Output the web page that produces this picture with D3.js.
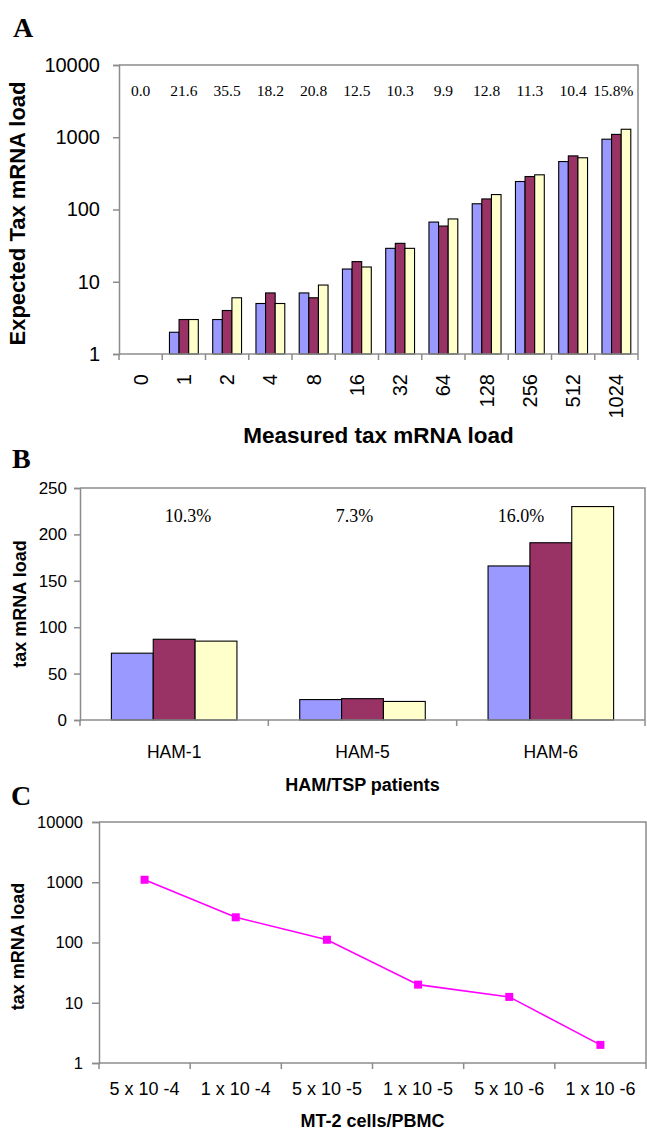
<!DOCTYPE html>
<html>
<head>
<meta charset="utf-8">
<script src="https://cdn.jsdelivr.net/npm/d3@7"></script>
<style>
  body { margin: 0; background: #fff; }
  svg { display: block; }
  text { fill: #000; }
</style>
</head>
<body>
<svg id="chart" width="647" height="1130"></svg>
<script>
// ---------------- DATA ----------------
// Panel A
const catsA = ["0", "1", "2", "4", "8", "16", "32", "64", "128", "256", "512", "1024"];
const seriesA1 = [0, 2, 3, 5, 7, 15, 29, 67, 120, 244, 461, 940];
const seriesA2 = [0, 3, 4, 7, 6, 19, 34, 59, 140, 286, 552, 1095];
const seriesA3 = [0, 3, 6, 5, 9, 16, 29, 74, 161, 302, 520, 1290];
const cvA = ["0.0", "21.6", "35.5", "18.2", "20.8", "12.5", "10.3", "9.9", "12.8", "11.3", "10.4", "15.8%"];
const ticksA = [1, 10, 100, 1000, 10000];

// Panel B
const catsB = ["HAM-1", "HAM-5", "HAM-6"];
const seriesB1 = [72, 22, 166];
const seriesB2 = [87, 23, 191];
const seriesB3 = [85, 20, 230];
const cvB = ["10.3%", "7.3%", "16.0%"];
const ticksB = [0, 50, 100, 150, 200, 250];

// Panel C
const catsC = ["5 x 10 -4", "1 x 10 -4", "5 x 10 -5", "1 x 10 -5", "5 x 10 -6", "1 x 10 -6"];
const valuesC = [1100, 262, 111, 20, 12.5, 2];
const ticksC = [1, 10, 100, 1000, 10000];

// ---------------- STYLE ----------------
const barColors = ["#9999FF", "#993366", "#FFFFCC"];
const axisGrey = "#8c8c8c";
const sans = "'Liberation Sans', Arial, sans-serif";
const serif = "'Liberation Serif', 'Times New Roman', serif";

const svg = d3.select("#chart");
svg.append("rect").attr("width", 647).attr("height", 1130).attr("fill", "#fff");

function frame(g, x0, x1, y0, y1) {
  g.append("path")
    .attr("d", `M${x0},${y0}H${x1}V${y1}`)
    .attr("fill", "none").attr("stroke", axisGrey).attr("stroke-width", 1.5);
}
function styleAxis(g) {
  g.selectAll(".domain").attr("stroke", axisGrey).attr("stroke-width", 1.5);
  g.selectAll(".tick line").attr("stroke", axisGrey).attr("stroke-width", 1.5);
}
function boundaryTicks(g, xScale, cats, y, len) {
  const bounds = cats.map(c => xScale(c)).concat([xScale(cats[cats.length - 1]) + xScale.bandwidth()]);
  g.selectAll(null).data(bounds).join("line")
    .attr("x1", d => d).attr("x2", d => d)
    .attr("y1", y).attr("y2", y + len)
    .attr("stroke", axisGrey).attr("stroke-width", 1.5);
}
function panelLetter(t, x, y) {
  svg.append("text").attr("x", x).attr("y", y).text(t)
    .attr("font-family", serif).attr("font-weight", "bold").attr("font-size", 28);
}
function excelBars(g, xScale, yScale, cats, series, baseVal) {
  const bw = xScale.bandwidth();
  const barW = bw / (series.length + 1.5);
  const inner = d3.scaleBand().domain(d3.range(series.length))
    .range([barW * 0.75, bw - barW * 0.75]).padding(0);
  series.forEach((vals, si) => {
    g.selectAll(null).data(cats.map((c, i) => ({ c, v: vals[i] })).filter(d => d.v > 0))
      .join("rect")
      .attr("x", d => xScale(d.c) + inner(si))
      .attr("width", inner.bandwidth())
      .attr("y", d => yScale(d.v))
      .attr("height", d => yScale(baseVal) - yScale(d.v))
      .attr("fill", barColors[si])
      .attr("stroke", "#000").attr("stroke-width", 1.1);
  });
}

// ---------------- PANEL A ----------------
{
  const L = 119, R = 638, T = 65, B = 354;
  const x = d3.scaleBand().domain(catsA).range([L, R]).padding(0);
  const y = d3.scaleLog().domain([1, 10000]).range([B, T]);
  const g = svg.append("g");
  frame(g, L, R, T, B);
  excelBars(g, x, y, catsA, [seriesA1, seriesA2, seriesA3], 1);

  const ya = g.append("g").attr("transform", `translate(${L},0)`)
    .call(d3.axisLeft(y).tickValues(ticksA).tickFormat(d3.format("d")).tickSize(6).tickPadding(13));
  styleAxis(ya);
  ya.selectAll("text").attr("font-family", sans).attr("font-size", 20);

  g.append("line").attr("x1", L).attr("x2", R).attr("y1", B).attr("y2", B)
    .attr("stroke", axisGrey).attr("stroke-width", 1.5);
  boundaryTicks(g, x, catsA, B, 6);

  g.selectAll(null).data(catsA).join("text")
    .attr("transform", d => `translate(${x(d) + x.bandwidth() / 2},${B + 20}) rotate(-90)`)
    .attr("text-anchor", "end").attr("dy", "0.35em")
    .attr("font-family", sans).attr("font-size", 20)
    .text(d => d);

  g.selectAll(null).data(catsA).join("text")
    .attr("x", (d, i) => x(d) + x.bandwidth() / 2 + (i === catsA.length - 1 ? -3 : 0))
    .attr("y", 96)
    .attr("text-anchor", "middle")
    .attr("font-family", serif).attr("font-size", 15.5)
    .text((d, i) => cvA[i]);

  g.append("text").attr("x", (L + R) / 2).attr("y", 443).attr("text-anchor", "middle")
    .attr("font-family", sans).attr("font-weight", "bold").attr("font-size", 22.5)
    .text("Measured tax mRNA load");
  g.append("text").attr("transform", `translate(17,${(T + B) / 2 + 4}) rotate(-90)`)
    .attr("text-anchor", "middle").attr("dy", "0.35em")
    .attr("font-family", sans).attr("font-weight", "bold").attr("font-size", 22)
    .text("Expected Tax mRNA load");
  panelLetter("A", 13, 37);
}

// ---------------- PANEL B ----------------
{
  const L = 80, R = 645, T = 488, B = 720;
  const x = d3.scaleBand().domain(catsB).range([L, R]).padding(0);
  const y = d3.scaleLinear().domain([0, 250]).range([B, T]);
  const g = svg.append("g");
  frame(g, L, R, T, B);
  excelBars(g, x, y, catsB, [seriesB1, seriesB2, seriesB3], 0);

  const ya = g.append("g").attr("transform", `translate(${L},0)`)
    .call(d3.axisLeft(y).tickValues(ticksB).tickSize(6).tickPadding(7));
  styleAxis(ya);
  ya.selectAll("text").attr("font-family", sans).attr("font-size", 17);

  g.append("line").attr("x1", L).attr("x2", R).attr("y1", B).attr("y2", B)
    .attr("stroke", axisGrey).attr("stroke-width", 1.5);
  boundaryTicks(g, x, catsB, B, 6);

  g.selectAll(null).data(catsB).join("text")
    .attr("x", d => x(d) + x.bandwidth() / 2).attr("y", 758)
    .attr("text-anchor", "middle").attr("font-family", sans).attr("font-size", 17.5)
    .text(d => d);

  // percentage annotations sit in a text box spanning the upper plot area
  const cvPos = d3.scalePoint().domain(cvB).range([L + 108, R - 124]);
  g.selectAll(null).data(cvB).join("text")
    .attr("x", d => cvPos(d)).attr("y", 522)
    .attr("text-anchor", "middle").attr("font-family", serif).attr("font-size", 18)
    .text(d => d);

  g.append("text").attr("x", (L + R) / 2).attr("y", 791).attr("text-anchor", "middle")
    .attr("font-family", sans).attr("font-weight", "bold").attr("font-size", 18)
    .text("HAM/TSP patients");
  g.append("text").attr("transform", `translate(20,${(T + B) / 2}) rotate(-90)`)
    .attr("text-anchor", "middle").attr("dy", "0.35em")
    .attr("font-family", sans).attr("font-weight", "bold").attr("font-size", 18)
    .text("tax mRNA load");
  panelLetter("B", 12, 468);
}

// ---------------- PANEL C ----------------
{
  const L = 99, R = 646, T = 822, B = 1063;
  const x = d3.scaleBand().domain(catsC).range([L, R]).padding(0);
  const y = d3.scaleLog().domain([1, 10000]).range([B, T]);
  const g = svg.append("g");
  frame(g, L, R, T, B);

  const ya = g.append("g").attr("transform", `translate(${L},0)`)
    .call(d3.axisLeft(y).tickValues(ticksC).tickFormat(d3.format("d")).tickSize(7).tickPadding(9));
  styleAxis(ya);
  ya.selectAll("text").attr("font-family", sans).attr("font-size", 16.5);

  g.append("line").attr("x1", L).attr("x2", R).attr("y1", B).attr("y2", B)
    .attr("stroke", axisGrey).attr("stroke-width", 1.5);
  boundaryTicks(g, x, catsC, B, 6);

  const pts = catsC.map((c, i) => ({ c, v: valuesC[i] }));
  const line = d3.line().x(d => x(d.c) + x.bandwidth() / 2).y(d => y(d.v));
  g.append("path").datum(pts).attr("d", line)
    .attr("fill", "none").attr("stroke", "#FF00FF").attr("stroke-width", 1.6);
  g.selectAll(null).data(pts).join("rect")
    .attr("x", d => x(d.c) + x.bandwidth() / 2 - 4)
    .attr("y", d => y(d.v) - 4)
    .attr("width", 8).attr("height", 8)
    .attr("fill", "#FF00FF");

  g.selectAll(null).data(catsC).join("text")
    .attr("x", d => x(d) + x.bandwidth() / 2).attr("y", 1095)
    .attr("text-anchor", "middle").attr("font-family", sans).attr("font-size", 18)
    .text(d => d);

  g.append("text").attr("x", (L + R) / 2).attr("y", 1127).attr("text-anchor", "middle")
    .attr("font-family", sans).attr("font-weight", "bold").attr("font-size", 18)
    .text("MT-2 cells/PBMC");
  g.append("text").attr("transform", `translate(18,${(T + B) / 2 + 4}) rotate(-90)`)
    .attr("text-anchor", "middle").attr("dy", "0.35em")
    .attr("font-family", sans).attr("font-weight", "bold").attr("font-size", 18)
    .text("tax mRNA load");
  panelLetter("C", 11, 805);
}
</script>
</body>
</html>
